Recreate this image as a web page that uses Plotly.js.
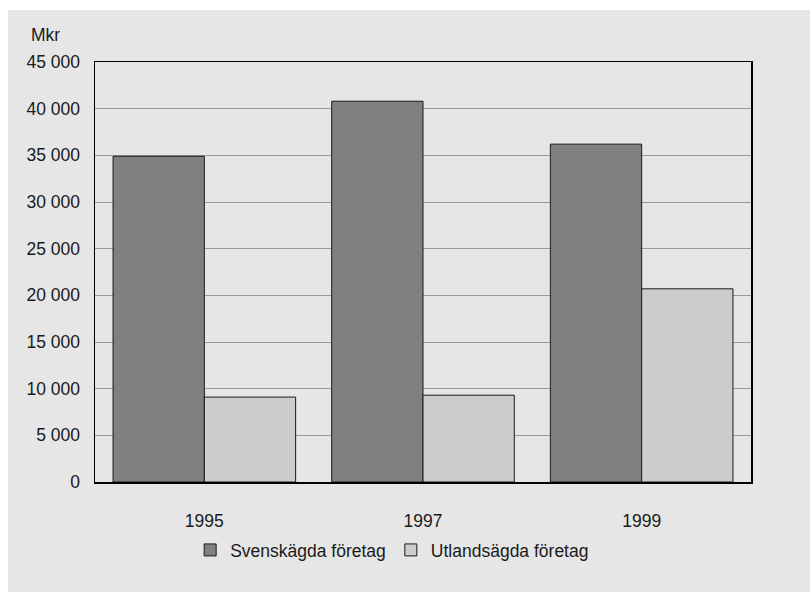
<!DOCTYPE html>
<html>
<head>
<meta charset="utf-8">
<script src="https://cdn.plot.ly/plotly-3.0.1.min.js"></script>
<style>
html,body{margin:0;padding:0;background:#ffffff;}
#chart{position:absolute;left:8px;top:10px;width:802px;height:582px;}
</style>
</head>
<body>
<div id="chart"></div>
<script>
var years = ['1995', '1997', '1999'];
var svenskagda = [34900, 40800, 36200];
var utlandsagda = [9100, 9300, 20700];
var seriesNames = ['Svenskägda företag', 'Utlandsägda företag'];
var yTicks = [0, 5000, 10000, 15000, 20000, 25000, 30000, 35000, 40000, 45000];

var fontFam = '"Liberation Sans", Arial, sans-serif';
var fs = 17.5;

var data = [
  {type: 'bar', x: years, y: svenskagda, name: seriesNames[0],
   marker: {color: '#808080', line: {color: '#1a1a1a', width: 1}}},
  {type: 'bar', x: years, y: utlandsagda, name: seriesNames[1],
   marker: {color: '#cccccc', line: {color: '#1a1a1a', width: 1}}}
];

var layout = {
  width: 802, height: 582,
  paper_bgcolor: '#e6e6e6', plot_bgcolor: '#e6e6e6',
  margin: {l: 87, r: 59, t: 52, b: 110},
  font: {family: fontFam, size: fs, color: '#1a1a1a'},
  separators: ', ',
  barmode: 'group', bargap: 0.165, bargroupgap: 0,
  showlegend: true,
  legend: {orientation: 'h', x: 0.453, xanchor: 'center', y: -0.162, yanchor: 'middle',
           itemwidth: 30,
           font: {family: fontFam, size: fs, color: '#1a1a1a'}, bgcolor: 'rgba(0,0,0,0)', traceorder: 'normal'},
  xaxis: {type: 'category', showgrid: false, zeroline: false,
          showline: true, mirror: true, linecolor: '#000000', linewidth: 1.5,
          ticks: 'outside', ticklen: 22, tickcolor: 'rgba(0,0,0,0)',
          tickfont: {family: fontFam, size: fs, color: '#1a1a1a'}},
  yaxis: {range: [0, 45000], tickvals: yTicks, tickformat: ',d',
          showgrid: true, gridcolor: '#999999', gridwidth: 1, zeroline: false,
          showline: true, mirror: true, linecolor: '#000000', linewidth: 1.5,
          ticks: 'outside', ticklen: 10, tickcolor: 'rgba(0,0,0,0)',
          tickfont: {family: fontFam, size: fs, color: '#1a1a1a'}},
  annotations: [{text: 'Mkr', xref: 'paper', yref: 'paper', x: -0.1, y: 1.065,
                 xanchor: 'left', yanchor: 'middle', showarrow: false,
                 font: {family: fontFam, size: fs, color: '#1a1a1a'}}]
};

Plotly.newPlot('chart', data, layout, {displayModeBar: false, staticPlot: true});
</script>
</body>
</html>
